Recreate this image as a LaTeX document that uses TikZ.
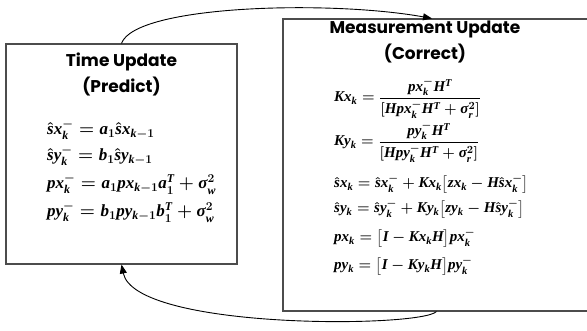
\documentclass[tikz,border=0pt]{standalone}
\usepackage{amsmath}
\usepackage{fontspec}
\setmainfont{Liberation Serif}
\newfontfamily\gothicfont{Poppins}
\newfontfamily\eqfont{Liberation Serif}[NFSSFamily=libser]
% Times-like bold italic letters in math
\SetSymbolFont{letters}{normal}{TU}{libser}{bx}{it}
\SetSymbolFont{letters}{bold}{TU}{libser}{bx}{it}
\newcommand\sg{\mathord{\text{\eqfont\bfseries\itshape σ}}}
\usetikzlibrary{arrows.meta,positioning}
\tikzset{
  stagebox/.style={draw=black!70, line width=1.1pt, inner sep=0pt},
  stagetitle/.style={font=\gothicfont\bfseries\fontsize{17}{26}\selectfont, align=center, inner sep=0pt},
  eqline/.style={font=\fontsize{15}{18}\selectfont\boldmath, anchor=base west, inner sep=0pt},
  bigeqline/.style={eqline, font=\fontsize{17}{20}\selectfont\boldmath},
  looparrow/.style={-{Triangle[length=9pt,width=7pt]}, line width=0.9pt},
}

\begin{document}
\begin{tikzpicture}[x=1pt,y=-1pt]
  \useasboundingbox (0,0) rectangle (587,331);

  % the two stages
  \node[stagebox, minimum width=231pt, minimum height=220pt] (timebox) at (121.5,154) {};
  \node[stagebox, minimum width=307pt, minimum height=292pt] (measbox) at (436.5,165) {};

  % titles
  \node[stagetitle] (timetitle) at (121.5,74) {Time Update\\(Predict)};
  \node[stagetitle] (meastitle) at (425,42) {Measurement Update\\(Correct)};

  % predict equations
  \node[bigeqline] (tx) at (47,135) {$\hat{s}x_k^- = a_1\hat{s}x_{k-1}$};
  \node[bigeqline] (ty) at (47,161) {$\hat{s}y_k^- = b_1\hat{s}y_{k-1}$};
  \node[bigeqline] (tpx) at (47,189) {$px_k^- = a_1px_{k-1}a_1^T+\sg_w^2$};
  \node[bigeqline] (tpy) at (47,217) {$py_k^- = b_1py_{k-1}b_1^T+\sg_w^2$};

  % correct equations
  \node[eqline] (kx) at (334,102) {$Kx_k = \dfrac{px_k^-H^T}{[Hpx_k^-H^T+\sg_r^2]}$};
  \node[eqline] (ky) at (334,146) {$Ky_k = \dfrac{py_k^-H^T}{[Hpy_k^-H^T+\sg_r^2]}$};
  \node[eqline] (mx) at (334,188) {$\hat{s}x_k = \hat{s}x_k^- + Kx_k\bigl[zx_k - H\hat{s}x_k^-\bigr]$};
  \node[eqline] (my) at (334,213) {$\hat{s}y_k = \hat{s}y_k^- + Ky_k\bigl[zy_k - H\hat{s}y_k^-\bigr]$};
  \node[eqline] (mpx) at (334,242) {$px_k = \bigl[I - Kx_kH\bigr]px_k^-$};
  \node[eqline] (mpy) at (334,270) {$py_k = \bigl[I - Ky_kH\bigr]py_k^-$};

  % loop between the stages
  \draw[looparrow] (timebox.north) .. controls (135,5) and (330,0) .. ([xshift=-4.5pt]measbox.north);
  \draw[looparrow] (measbox.south) .. controls (420,328) and (135,330) .. (timebox.south);
\end{tikzpicture}
\end{document}
